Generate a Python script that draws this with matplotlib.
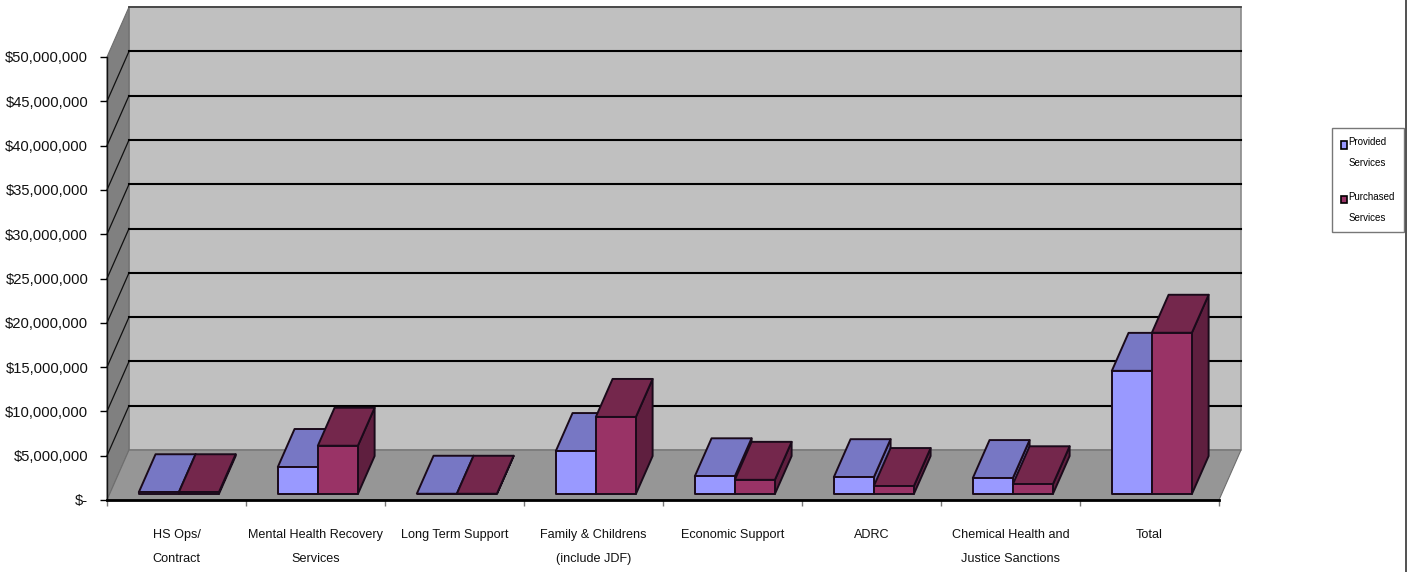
import matplotlib
matplotlib.use('Agg')
from matplotlib import pyplot as plt
from matplotlib.patches import Polygon, Patch

plt.rcParams['font.family'] = ['Liberation Sans', 'DejaVu Sans']

categories = ['HS Ops/\nContract', 'Mental Health Recovery\nServices', 'Long Term Support',
              'Family & Childrens\n(include JDF)', 'Economic Support', 'ADRC',
              'Chemical Health and\nJustice Sanctions', 'Total']
provided = [200000, 3050000, 30000, 4850000, 2000000, 1900000, 1800000, 13900000]
purchased = [200000, 5450000, 30000, 8700000, 1600000, 900000, 1100000, 18200000]
value_ticks = [0, 5000000, 10000000, 15000000, 20000000, 25000000,
               30000000, 35000000, 40000000, 45000000, 50000000]

W, H = 1409, 572
DEPTH_X = 22 / 139        # category units
DEPTH_Y = 5640000         # dollars
BAR_OFF = 0.21
BAR_W = 0.288
D0, D1 = 0.12, 0.88


def proj(c, v, d):
    # front plane position pushed back to depth d (0 front, 1 back wall)
    return (c + d * DEPTH_X, v + d * DEPTH_Y)


def poly(ax, pts, color, z, edge='none', lw=0):
    ax.add_patch(Polygon(pts, closed=True, facecolor=color, edgecolor=edge, linewidth=lw,
                         clip_on=False, zorder=z, joinstyle='round'))


def bar3d(ax, left, value, front, top, side, z):
    right = left + BAR_W
    ec = '#1a0a1a'
    poly(ax, [proj(right, 0, D0), proj(right, 0, D1), proj(right, value, D1), proj(right, value, D0)], side, z, ec, 1.4)
    poly(ax, [proj(left, value, D0), proj(right, value, D0), proj(right, value, D1), proj(left, value, D1)], top, z, ec, 1.4)
    poly(ax, [proj(left, 0, D0), proj(right, 0, D0), proj(right, value, D0), proj(left, value, D0)], front, z, ec, 1.4)


fig = plt.figure(figsize=(W / 100, H / 100), dpi=100)
ax = fig.add_axes([107 / W, 1 - 500 / H, 1112 / W, 443 / H])
ax.set_xlim(0, len(categories))
ax.set_ylim(0, 50000000)
ax.patch.set_alpha(0)

n = len(categories)
top_v = value_ticks[-1]
# back wall, left wall, floor
poly(ax, [proj(0, 0, 1), proj(n, 0, 1), proj(n, top_v, 1), proj(0, top_v, 1)], '#C0C0C0', 1, '#8a8a8a', 1.2)
poly(ax, [proj(0, 0, 0), proj(0, 0, 1), proj(0, top_v, 1), proj(0, top_v, 0)], '#808080', 1, '#6e6e6e', 0.8)
poly(ax, [proj(0, 0, 0), proj(n, 0, 0), proj(n, 0, 1), proj(0, 0, 1)], '#969696', 1.5, '#6e6e6e', 0.8)

# gridlines, back wall and down the left wall
for v in value_ticks[1:]:
    p0, p1, p2 = proj(0, v, 0), proj(0, v, 1), proj(n, v, 1)
    if v < top_v:
        ax.plot([p0[0], p1[0]], [p0[1], p1[1]], color='#111111', lw=0.9, clip_on=False, zorder=2)
        ax.plot([p1[0], p2[0]], [p1[1], p2[1]], color='black', lw=1.5, clip_on=False, zorder=2)
    else:
        ax.plot([p1[0], p2[0]], [p1[1], p2[1]], color='#444444', lw=1.3, clip_on=False, zorder=2)

for i in range(n):
    bar3d(ax, i + BAR_OFF, provided[i], '#9999FF', '#7777C4', '#6A6AAE', 3 + i * 0.1)
    bar3d(ax, i + BAR_OFF + BAR_W, purchased[i], '#993366', '#74274C', '#5F1F3F', 3.05 + i * 0.1)

for name in ['top', 'right']:
    ax.spines[name].set_visible(False)
ax.spines['left'].set_color('#111111')
ax.spines['bottom'].set_linewidth(2)
ax.spines['left'].set_linewidth(1)
ax.spines['left'].set_zorder(6)
ax.spines['bottom'].set_zorder(6)

ax.set_yticks(value_ticks)
ax.set_yticklabels(['$-'] + ['${:,}'.format(v) for v in value_ticks[1:]], fontsize=10.6, color='#111111')
ax.tick_params(axis='y', length=5, width=1, pad=8.5)
ax.set_xticks(range(n + 1))
ax.set_xticklabels([''] * (n + 1))
ax.tick_params(axis='x', which='major', length=4.5, width=1, color='#777777')
ax.set_xticks([i + 0.5 for i in range(n)], minor=True)
ax.set_xticklabels(categories, minor=True, fontsize=9.1, color='#111111', linespacing=2.35, va='top')
ax.tick_params(axis='x', which='minor', length=0, pad=21)

handles = [Patch(facecolor='#9999FF', edgecolor='black', lw=1.2),
           Patch(facecolor='#993366', edgecolor='black', lw=1.2)]
leg = fig.legend(handles, ['Provided\nServices', 'Purchased\nServices'],
                 loc='upper left', bbox_to_anchor=(1332 / W, 1 - 128 / H),
                 fontsize=7, frameon=True, fancybox=False, edgecolor='#555555',
                 handlelength=0.6, handleheight=0.8, handletextpad=0.2,
                 borderpad=0.9, labelspacing=2.4, borderaxespad=0)
leg.get_frame().set_linewidth(1)
for t in leg.get_texts():
    t.set_linespacing(2.44)
# swatches sit level with the first line of their label
for h in leg.legend_handles:
    h.set_y(h.get_y() + 6)

# thin frame line down the right edge of the picture
fig.add_artist(plt.Line2D([1406 / W, 1406 / W], [0, 1], color='#333333', lw=1.2))

fig.savefig('out.png', dpi=100)
